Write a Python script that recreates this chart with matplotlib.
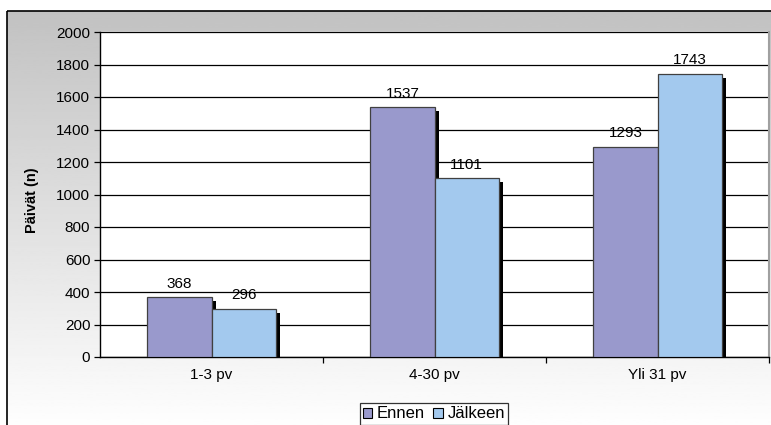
import numpy as np
import matplotlib
matplotlib.use("Agg")
import matplotlib.pyplot as plt
from matplotlib.patches import Patch, Rectangle

plt.rcParams['font.family'] = ['Liberation Sans', 'DejaVu Sans']

categories = ["1-3 pv", "4-30 pv", "Yli 31 pv"]
ennen = [368, 1537, 1293]
jalkeen = [296, 1101, 1743]
series_names = ["Ennen", "Jälkeen"]
y_ticks = [0, 200, 400, 600, 800, 1000, 1200, 1400, 1600, 1800, 2000]

c_ennen = "#9999cc"
c_jalkeen = "#a3c9ee"
fs = 11

W, H = 771, 425
fig = plt.figure(figsize=(W / 100, H / 100), dpi=100)

# Chart-area background: grey-to-white vertical gradient inside a black frame
bg = fig.add_axes([0, 0, 1, 1], zorder=-10)
bg.set_xlim(0, W)
bg.set_ylim(H, 0)
bg.axis("off")
grad = np.linspace(0.76, 0.995, 256).reshape(-1, 1)
bg.imshow(grad, cmap="gray", vmin=0, vmax=1, extent=[7, W, H, 11], aspect="auto")
bg.add_patch(Rectangle((7, 11), W + 5, H, fill=False, edgecolor="black", linewidth=1.2))

# Plot area
left, right, top, bottom = 100, 769, 32, 357
ax = fig.add_axes([left / W, 1 - bottom / H, (right - left) / W, (bottom - top) / H])
ax.set_facecolor("white")

x = np.arange(len(categories))
bw = 0.287
sx = 4 / 223  # shadow offset in category units
sy = 25       # shadow offset in data units

for vals, off, col in [(ennen, -bw / 2, c_ennen), (jalkeen, bw / 2, c_jalkeen)]:
    ax.bar(x + off + sx, np.array(vals) - sy, bw, color="black", zorder=2, linewidth=0)
    ax.bar(x + off, vals, bw, color=col, edgecolor="#404040", linewidth=0.9, zorder=3)
    for xi, v in zip(x + off, vals):
        ax.text(xi, v + 40, str(v), ha="center", va="bottom", fontsize=fs, zorder=4)

ax.set_xlim(-0.5, 2.5)
ax.set_ylim(0, 2000)
ax.set_yticks(y_ticks)
ax.set_yticklabels([str(t) for t in y_ticks], fontsize=fs)
ax.yaxis.grid(True, color="black", linewidth=0.9, zorder=0)
ax.set_axisbelow(True)
ax.tick_params(axis="y", direction="out", length=4, width=0.9, pad=3)

ax.set_xticks(x)
ax.set_xticklabels(categories, fontsize=fs)
ax.tick_params(axis="x", length=0, pad=8)
ax.set_xticks([0.5, 1.5, 2.5], minor=True)
ax.tick_params(axis="x", which="minor", direction="out", length=4, width=0.9)

for s in ["left", "bottom"]:
    ax.spines[s].set_color("black")
    ax.spines[s].set_linewidth(1.0)
ax.spines["top"].set_visible(False)
ax.spines["right"].set_color("#a0a0a0")
ax.spines["right"].set_linewidth(1.5)

fig.text(32 / W, 1 - 200 / H, "Päivät (n)", rotation=90, ha="center", va="center",
         fontsize=fs - 0.5, fontweight="bold")

handles = [Patch(facecolor=c_ennen, edgecolor="black", linewidth=0.8),
           Patch(facecolor=c_jalkeen, edgecolor="black", linewidth=0.8)]
leg = fig.legend(handles, series_names, loc="center", bbox_to_anchor=(434 / W, 1 - 414 / H),
                 ncol=2, fontsize=fs + 1, frameon=True, fancybox=False, edgecolor="black",
                 handlelength=0.55, handleheight=0.55, handletextpad=0.3, columnspacing=0.5,
                 borderpad=0.2, borderaxespad=0)
leg.get_frame().set_linewidth(0.9)
leg.get_frame().set_facecolor("white")

fig.savefig("out.png", dpi=100)
